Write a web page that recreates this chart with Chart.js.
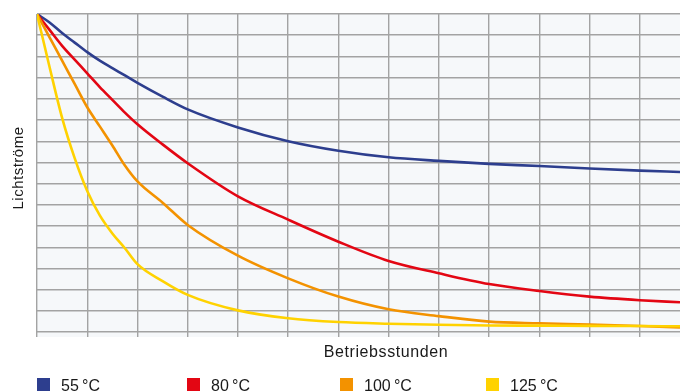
<!DOCTYPE html>
<html>
<head>
<meta charset="utf-8">
<script src="https://cdn.jsdelivr.net/npm/chart.js@4/dist/chart.umd.min.js"></script>
<style>
	html, body { margin: 0; padding: 0; background: #fff; }
	#wrap { position: relative; width: 680px; height: 392px; overflow: hidden;
		font-family: "Liberation Sans", Arial, Helvetica, sans-serif; color: #1a1a1a; }
	#chart { position: absolute; left: 0; top: 0; }
	.axis-x { position: absolute; left: 266px; top: 343px; width: 240px; text-align: center;
		font-size: 16px; line-height: 18px; letter-spacing: 0.6px; }
	.axis-y { position: absolute; left: -32px; top: 159px; width: 100px; text-align: center;
		font-size: 15px; line-height: 18px; letter-spacing: 0.5px; transform: rotate(-90deg); }
	.legend-item { position: absolute; top: 377px; font-size: 16px; line-height: 18px; }
	.legend-item i { position: absolute; left: 0; top: 1px; width: 13px; height: 13px; }
	.legend-item span { position: absolute; left: 24px; top: 0; white-space: nowrap; }
</style>
</head>
<body>
<div id="wrap">
	<canvas id="chart" width="680" height="392"></canvas>
	<div class="axis-x">Betriebsstunden</div>
	<div class="axis-y">Lichtströme</div>
	<div id="legend"></div>
</div>
<script>
	// Betriebsstunden (grid units) and Lichtstrom per temperature
	var hours = [0, 0.25, 0.5, 0.75, 1, 1.25, 1.5, 1.75, 2, 2.5, 3, 4, 5, 6, 7, 8, 9, 10, 11, 12, 12.8];
	var flux55 = [15, 14.6, 14.1, 13.65, 13.2, 12.8, 12.45, 12.1, 11.75, 11.1, 10.5, 9.65, 9.0, 8.55, 8.24, 8.07, 7.93, 7.83, 7.71, 7.61, 7.55];
	var flux80 = [15, 14.25, 13.5, 12.85, 12.2, 11.55, 10.95, 10.35, 9.8, 8.85, 7.96, 6.4, 5.3, 4.26, 3.35, 2.77, 2.26, 1.93, 1.67, 1.5, 1.4];
	var flux100 = [15, 13.9, 12.8, 11.7, 10.6, 9.7, 8.8, 7.85, 7.1, 6.1, 5.05, 3.6, 2.53, 1.67, 1.07, 0.75, 0.49, 0.41, 0.35, 0.28, 0.22];
	var flux125 = [15, 12.5, 10.1, 8.2, 6.65, 5.5, 4.65, 3.95, 3.2, 2.4, 1.75, 1.02, 0.65, 0.47, 0.39, 0.34, 0.31, 0.3, 0.29, 0.28, 0.27];

	var seriesLabels = ['55\u2009°C', '80\u2009°C', '100\u2009°C', '125\u2009°C'];
	var seriesColors = ['#2d3e8e', '#e30613', '#f39200', '#ffd200'];
	var seriesValues = [flux55, flux80, flux100, flux125];
	var legendLeft = [37, 187, 340, 486];

	var gridColor = '#a3a3a3';

	// light panel behind the grid
	var plotBackground = {
		id: 'plotBackground',
		beforeDraw: function(chart) {
			var a = chart.chartArea;
			var ctx = chart.ctx;
			ctx.save();
			ctx.fillStyle = '#f6f8fa';
			ctx.fillRect(a.left, a.top, a.right - a.left, a.bottom - a.top + 5);
			ctx.restore();
		}
	};

	var datasets = seriesValues.map(function(vals, i) {
		return {
			label: seriesLabels[i],
			data: hours.map(function(h, k) { return { x: h, y: vals[k] }; }),
			borderColor: seriesColors[i],
			backgroundColor: seriesColors[i],
			borderWidth: 2.6,
			pointRadius: 0,
			fill: false,
			cubicInterpolationMode: 'monotone',
			order: seriesValues.length - i
		};
	});

	var ctx = document.getElementById('chart').getContext('2d');
	var myChart = new Chart(ctx, {
		type: 'line',
		data: { datasets: datasets },
		options: {
			responsive: false,
			animation: false,
			devicePixelRatio: 1,
			layout: { padding: { top: 14, right: 0, left: 0, bottom: 0 } },
			scales: {
				x: {
					type: 'linear',
					min: 0,
					max: 12.8,
					ticks: { display: false, stepSize: 1, includeBounds: false },
					grid: { color: gridColor, lineWidth: 1.4, drawTicks: true, tickLength: 5, tickColor: gridColor },
					border: { display: false },
					afterFit: function(s) { s.height = 60; }
				},
				y: {
					min: 0,
					max: 15,
					ticks: { display: false, stepSize: 1 },
					grid: { color: gridColor, lineWidth: 1.4, drawTicks: false },
					border: { display: false },
					afterFit: function(s) { s.width = 37; }
				}
			},
			plugins: {
				legend: { display: false },
				tooltip: { enabled: false },
				title: { display: false }
			}
		},
		plugins: [plotBackground]
	});

	// legend row under the axis
	var legend = document.getElementById('legend');
	seriesLabels.forEach(function(lbl, i) {
		var item = document.createElement('div');
		item.className = 'legend-item';
		item.style.left = legendLeft[i] + 'px';
		item.innerHTML = '<i style="background:' + seriesColors[i] + '"></i><span>' + lbl + '</span>';
		legend.appendChild(item);
	});
</script>
</body>
</html>
